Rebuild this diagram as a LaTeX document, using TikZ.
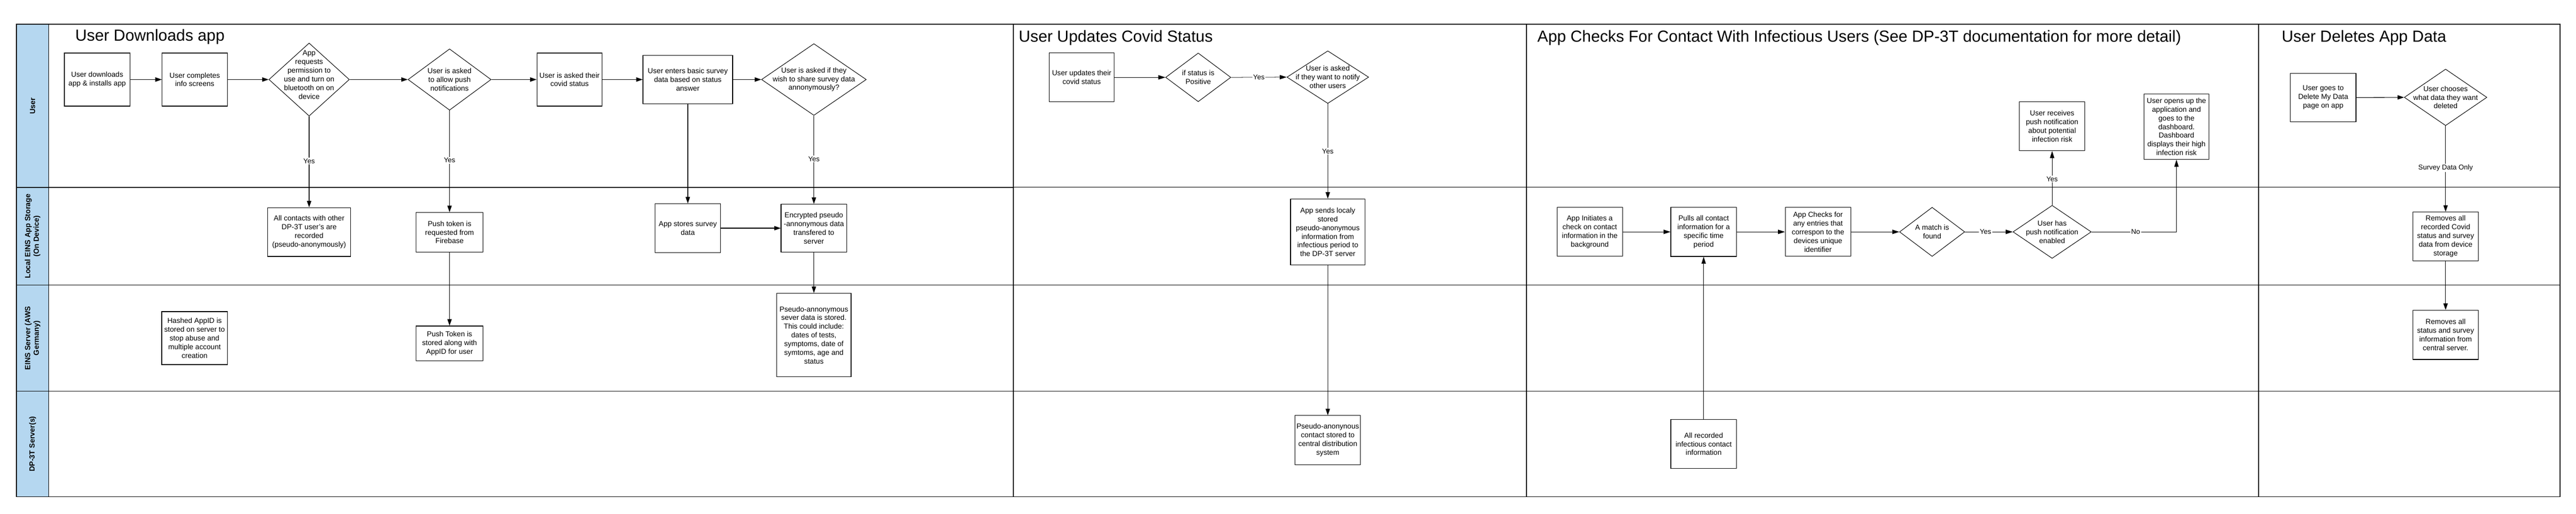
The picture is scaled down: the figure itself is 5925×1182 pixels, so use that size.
\documentclass[tikz,border=0pt]{standalone}
\usepackage{fontspec}
\setmainfont{Liberation Sans}
\usetikzlibrary{shapes.geometric,arrows.meta,calc}
\definecolor{lanefill}{RGB}{181,215,240}
\newcommand\myboxfont{\fontsize{16.7}{20}\selectfont}
\newcommand\mylblfont{\fontsize{16}{19}\selectfont}
\newcommand\mytitlefont{\fontsize{37}{44}\selectfont}
\newcommand\mylanefont{\fontsize{17}{20}\selectfont\bfseries}
\begin{document}
\begin{tikzpicture}[x=1pt,y=-1pt,
  sz/.style 2 args={minimum width=#1, minimum height=#2},
  box/.style={draw, line width=1.5pt, inner sep=1pt, align=center, font=\myboxfont},
  tbox/.style={box, line width=1.1pt},
  dia/.style={draw, diamond, line width=1.2pt, inner sep=0pt},
  txt/.style={align=center, font=\myboxfont, inner sep=0pt},
  arr/.style={line width=1.3pt, -{Triangle[length=15pt,width=10pt]}},
  tarr/.style={line width=0.9pt, -{Triangle[length=16pt,width=10pt]}},
  lbl/.style={fill=white, font=\mylblfont, inner sep=2pt},
  ttl/.style={anchor=base west, font=\mytitlefont, inner sep=0pt},
  lanelbl/.style={rotate=90, align=center, font=\mylanefont, inner sep=0pt},
]
\useasboundingbox (0,0) rectangle (5925,1182);
% lane header strip
\fill[lanefill] (38,56) rectangle (112,1143);
% lane lines
\draw[line width=1.9pt] (38,431) -- (2331,431);
\draw[line width=1.9pt] (38,656) -- (2331,656);
\draw[line width=1.9pt] (38,900) -- (2331,900);
\draw[line width=1.3pt] (2331,431) -- (5888,431);
\draw[line width=1.3pt] (2331,656) -- (5888,656);
\draw[line width=1.3pt] (2331,900) -- (5888,900);
% frame and dividers
\draw[line width=2pt] (38,56) rectangle (5888,1143);
\draw[line width=2pt] (112,56) -- (112,1143);
\draw[line width=2pt] (2331,56) -- (2331,1143);
\draw[line width=2pt] (3511,56) -- (3511,1143);
\draw[line width=2pt] (5195,56) -- (5195,1143);
% lane labels
\node[lanelbl] (L1) at (75,243.5) {User};
\node[lanelbl] (L2) at (75,543.5) {Local EINS App Storage\\(On Device)};
\node[lanelbl] (L3) at (75,778) {EINS Server (AWS\\Germany)};
\node[lanelbl] (L4) at (75,1021.5) {DP-3T Server(s)};
% titles
\node[ttl] (T1) at (173,94) {User Downloads app};
\node[ttl] (T2) at (2343,96) {User Updates Covid Status};
\node[ttl] (T3) at (3536,96) {App Checks For Contact With Infectious Users (See DP-3T documentation for more detail)};
\node[ttl] (T4) at (5248,96) {User Deletes App Data};

% ---------- Section 1 ----------
\node[box, sz={151}{122}] (b1) at (223.5,183) {User downloads\\app \& installs app};
\node[box, sz={150}{122}] (b2) at (448,183) {User completes\\info screens};
\node[dia, sz={185}{168}] (d1) at (711,183) {};
\node[txt] (d1t) at (711,172) {App\\requests\\permission to\\use and turn on\\bluetooth on on\\device};
\node[dia, sz={191}{141}] (d2) at (1034,183) {};
\node[txt] (d2t) at (1034,183) {User is asked\\to allow push\\notifications};
\node[box, sz={150}{122}] (b3) at (1310,183) {User is asked their\\covid status};
\node[box, sz={206}{112}] (b4) at (1582,183) {User enters basic survey\\data based on status\\answer};
\node[dia, sz={241}{165}] (d3) at (1872,183) {};
\node[txt] (d3t) at (1872,183) {User is asked if they\\wish to share survey data\\annonymously?};
\node[box, sz={191}{112}] (a1) at (711,534) {All contacts with other\\DP-3T user's are\\recorded\\(pseudo-anonymously)};
\node[box, sz={154}{91}] (b5) at (1034,534.5) {Push token is\\requested from\\Firebase};
\node[box, sz={150}{112}] (b6) at (1582,525) {App stores survey\\data};
\node[box, sz={151}{110}] (b7) at (1872,525) {Encrypted pseudo\\-annonymous data\\transfered to\\server};
\node[box, sz={151}{122}] (h1) at (447.5,778) {Hashed AppID is\\stored on server to\\stop abuse and\\multiple account\\creation};
\node[box, sz={154}{80}] (b8) at (1034,790) {Push Token is\\stored along with\\AppID for user};
\node[box, sz={171}{192}] (b9) at (1872,771) {Pseudo-annonymous\\sever data is stored.\\This could include:\\dates of tests,\\symptoms, date of\\symtoms, age and\\status};

\draw[arr] (b1.east) -- (b2.west);
\draw[arr] (b2.east) -- (d1.west);
\draw[arr] (d1.east) -- (d2.west);
\draw[arr] (d2.east) -- (b3.west);
\draw[arr] (b3.east) -- (b4.west);
\draw[arr] (b4.east) -- (d3.west);
\draw[arr] (d1.south) -- node[lbl, pos=0.49] (y1) {Yes} (a1.north);
\draw[arr] (d2.south) -- node[lbl, pos=0.49] (y2) {Yes} (b5.north);
\draw[arr] (d3.south) -- node[lbl, pos=0.49] (y3) {Yes} (b7.north);
\draw[arr] (b5.south) -- (b8.north);
\draw[arr] (b4.south) -- (b6.north);
\draw[arr] (b6.east) -- (b7.west);
\draw[arr] (b7.south) -- (b9.north);

% ---------- Section 2 ----------
\node[tbox, sz={150}{112}] (s2b1) at (2488,178) {User updates their\\covid status};
\node[dia, sz={150}{112}] (s2d1) at (2756,178) {};
\node[txt] (s2d1t) at (2756,178) {if status is\\Positive};
\node[dia, sz={188}{121}] (s2d2) at (3054,177.5) {};
\node[txt] (s2d2t) at (3054,177.5) {User is asked\\if they want to notify\\other users};
\node[box, sz={171}{152}] (s2b2) at (3054,534) {App sends localy\\stored\\pseudo-anonymous\\information from\\infectious period to\\the DP-3T server};
\node[tbox, sz={150}{113}] (s2b3) at (3054,1012.5) {Pseudo-anonynous\\contact stored to\\central distribution\\system};

\draw[tarr] (s2b1.east) -- (s2d1.west);
\draw[tarr] (s2d1.east) -- node[lbl, pos=0.5] (y4) {Yes} (s2d2.west);
\draw[arr] (s2d2.south) -- node[lbl, pos=0.5] (y5) {Yes} (s2b2.north);
\draw[arr] (s2b2.south) -- (s2b3.north);

% ---------- Section 3 ----------
\node[tbox, sz={151}{113}] (s3b1) at (3656.5,533.5) {App Initiates a\\check on contact\\information in the\\background};
\node[box, sz={151}{113}] (s3b2) at (3918.5,533.5) {Pulls all contact\\information for a\\specific time\\period};
\node[tbox, sz={151}{113}] (s3b3) at (4181.5,533.5) {App Checks for\\any entries that\\correspon to the\\devices unique\\identifier};
\node[dia, sz={150}{113}] (s3d1) at (4444,533.5) {};
\node[txt] (s3d1t) at (4444,533.5) {A match is\\found};
\node[dia, sz={180}{122}] (s3d2) at (4720,533.5) {};
\node[txt] (s3d2t) at (4720,533.5) {User has\\push notification\\enabled};
\node[tbox, sz={150}{113}] (s3b4) at (4720,290.5) {User receives\\push notification\\about potential\\infection risk};
\node[tbox, sz={150}{151}] (s3b5) at (5006,291.5) {User opens up the\\application and\\goes to the\\dashboard.\\Dashboard\\displays their high\\infection risk};
\node[box, sz={151}{113}] (s3b6) at (3918.5,1021.5) {All recorded\\infectious contact\\information};

\draw[tarr] (s3b1.east) -- (s3b2.west);
\draw[tarr] (s3b2.east) -- (s3b3.west);
\draw[tarr] (s3b3.east) -- (s3d1.west);
\draw[tarr] (s3d1.east) -- node[lbl, pos=0.43] (y6) {Yes} (s3d2.west);
\draw[tarr] (s3d2.north) -- node[lbl, pos=0.48] (y7) {Yes} (s3b4.south);
\draw[tarr] (s3d2.east) -| node[lbl, pos=0.26] (n1) {No} (s3b5.south);
\draw[tarr] (s3b6.north) -- (s3b2.south);

% ---------- Section 4 ----------
\node[box, sz={151}{111}] (s4b1) at (5343.5,224.5) {User goes to\\Delete My Data\\page on app};
\node[dia, sz={190}{130}] (s4d1) at (5625,224) {};
\node[txt] (s4d1t) at (5625,224) {User chooses\\what data they want\\deleted};
\node[box, sz={150}{112}] (s4b2) at (5625,544) {Removes all\\recorded Covid\\status and survey\\data from device\\storage};
\node[box, sz={150}{113}] (s4b3) at (5625,770.5) {Removes all\\status and survey\\information from\\central server.};

\draw[arr] (s4b1.east) -- (s4d1.west);
\draw[arr] (s4d1.south) -- node[lbl, pos=0.49] (sd) {Survey Data Only} (s4b2.north);
\draw[arr] (s4b2.south) -- (s4b3.north);
\end{tikzpicture}
\end{document}
